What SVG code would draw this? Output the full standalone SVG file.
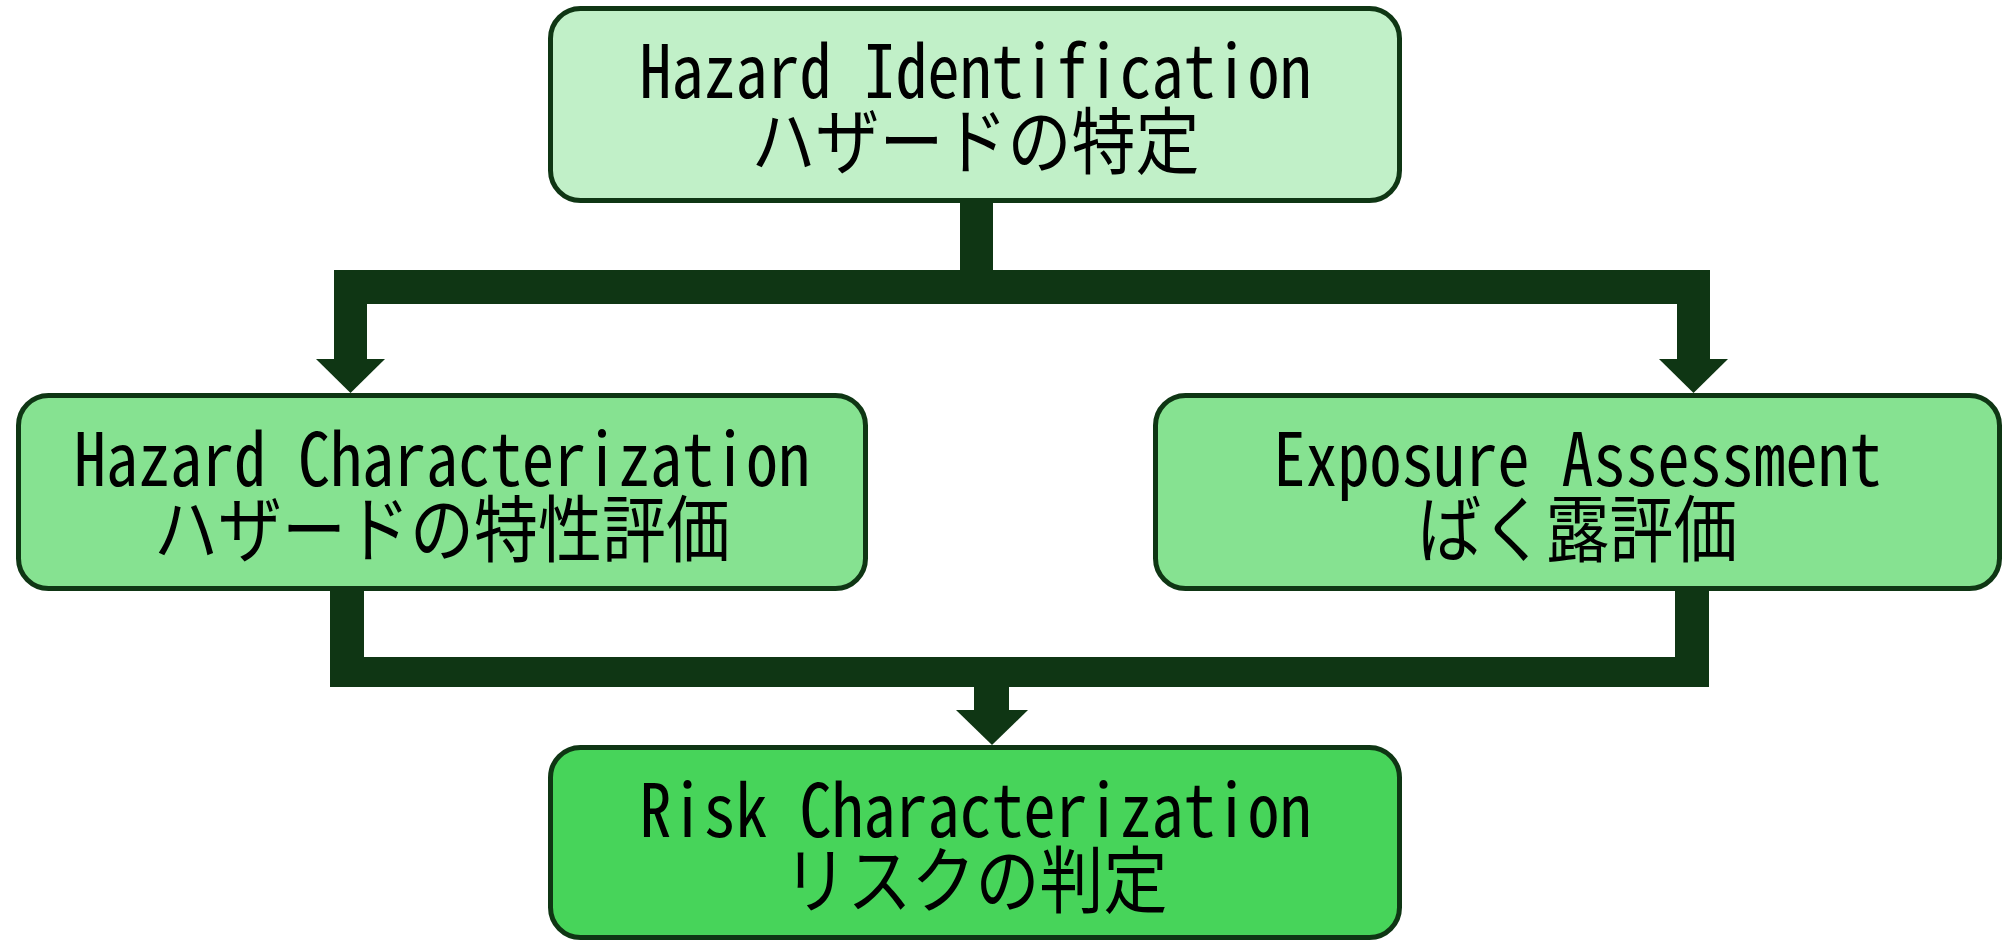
<svg xmlns="http://www.w3.org/2000/svg" width="2003" height="940" viewBox="0 0 2003 940">
  <style>
    .box { stroke: #0F3614; stroke-width: 5; }
    .lvl1 { fill: #C1F0C8; }
    .lvl2 { fill: #86E291; }
    .lvl3 { fill: #47D45A; }
    .conn { fill: #0F3614; }
    .lbl { font-family: 'Noto Sans Mono CJK JP', 'Noto Sans CJK JP', 'DejaVu Sans Mono', monospace; font-size: 64px; fill: #000; text-anchor: middle; }
  </style>

  <!-- connectors -->
  <g id="connectors">
    <!-- split from Hazard Identification -->
    <rect class="conn" x="960" y="200" width="33" height="72"/>
    <rect class="conn" x="334" y="270" width="1376" height="34"/>
    <rect class="conn" x="334" y="270" width="33" height="90"/>
    <polygon class="conn" points="316,359 385,359 350.5,393"/>
    <rect class="conn" x="1677" y="270" width="33" height="90"/>
    <polygon class="conn" points="1659,359 1728,359 1693.5,393"/>
    <!-- merge into Risk Characterization -->
    <rect class="conn" x="330" y="588" width="34" height="99"/>
    <rect class="conn" x="1675" y="588" width="34" height="99"/>
    <rect class="conn" x="330" y="657" width="1379" height="30"/>
    <rect class="conn" x="974" y="686" width="35" height="25"/>
    <polygon class="conn" points="956,710 1028,710 992,745"/>
  </g>

  <!-- each label: English line, then Japanese line 70px lower (61.4 before the 1.14 vertical stretch) -->
  <g id="hazard-identification">
    <rect class="box lvl1" x="550.5" y="8.5" width="849" height="192" rx="30"/>
    <g transform="translate(975.5,98) scale(1,1.14)">
      <text class="lbl"><tspan x="0" y="0">Hazard Identification</tspan><tspan x="0" y="61.4">ハザードの特定</tspan></text>
    </g>
  </g>

  <g id="hazard-characterization">
    <rect class="box lvl2" x="18.5" y="395.5" width="847" height="193" rx="30"/>
    <g transform="translate(442,486) scale(1,1.14)">
      <text class="lbl"><tspan x="0" y="0">Hazard Characterization</tspan><tspan x="0" y="61.4">ハザードの特性評価</tspan></text>
    </g>
  </g>

  <g id="exposure-assessment">
    <rect class="box lvl2" x="1155.5" y="395.5" width="844" height="193" rx="30"/>
    <g transform="translate(1577.5,486) scale(1,1.14)">
      <text class="lbl"><tspan x="0" y="0">Exposure Assessment</tspan><tspan x="0" y="61.4">ばく露評価</tspan></text>
    </g>
  </g>

  <g id="risk-characterization">
    <rect class="box lvl3" x="550.5" y="747.5" width="849" height="190" rx="30"/>
    <g transform="translate(975.5,837) scale(1,1.14)">
      <text class="lbl"><tspan x="0" y="0">Risk Characterization</tspan><tspan x="0" y="61.4">リスクの判定</tspan></text>
    </g>
  </g>
</svg>
